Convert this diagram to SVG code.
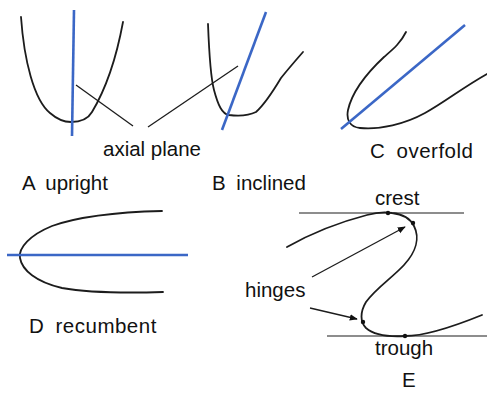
<svg xmlns="http://www.w3.org/2000/svg" width="487" height="395" viewBox="0 0 487 395">
  <style>
    .fold { fill: none; stroke: #1c1c1c; stroke-width: 1.8; stroke-linecap: round; stroke-linejoin: round; }
    .axis { fill: none; stroke: #3b67c6; stroke-width: 2.6; stroke-linecap: butt; }
    .lead { fill: none; stroke: #1c1c1c; stroke-width: 1.3; }
    .ref  { fill: none; stroke: #1c1c1c; stroke-width: 1.2; }
    .lbl  { font-family: "Liberation Sans", Arial, sans-serif; font-size: 20.5px; fill: #111; }
    .cap  { word-spacing: 5px; }
    .wide { letter-spacing: 0.5px; }
    .dot  { fill: #111; }
  </style>
  <defs>
    <marker id="arrow" viewBox="0 0 10 10" refX="9" refY="5" markerWidth="8" markerHeight="8" orient="auto" markerUnits="userSpaceOnUse">
      <path d="M0,1 L10,5 L0,9 Z" fill="#111"/>
    </marker>
  </defs>

  <rect width="487" height="395" fill="#ffffff"/>

  <!-- A: upright fold -->
  <g id="fold-a">
    <path class="fold" d="M21,17 C24,60 34,100 50,113 C58,120 64,122 71,122 C80,122 88,119 92,112 C104,92 116,60 123,22"/>
    <line class="axis" x1="74" y1="10" x2="72" y2="136"/>
    <text class="lbl cap" x="22" y="190">A upright</text>
  </g>

  <!-- B: inclined fold -->
  <g id="fold-b">
    <path class="fold" d="M208,24 C209,50 210,75 214,90 C218,105 222,114 229,115 C238,116 248,116 256,112 C265,104 275,88 281,78 C289,68 296,60 303,52"/>
    <line class="axis" x1="266" y1="12" x2="222" y2="130"/>
    <text class="lbl cap" x="212" y="190">B inclined</text>
  </g>

  <!-- C: overfold -->
  <g id="fold-c">
    <path class="fold" d="M406,32 C400,44 392,50 384,57 C368,72 352,92 348,110 C346,120 350,127 360,128 C380,130 405,124 425,113 C445,102 462,88 487,74"/>
    <line class="axis" x1="465" y1="25" x2="341" y2="129"/>
    <text class="lbl cap wide" x="370" y="158">C overfold</text>
  </g>

  <!-- D: recumbent fold -->
  <g id="fold-d">
    <path class="fold" d="M162,211 C120,212 80,216 52,226 C30,235 18,248 20,258 C22,270 36,282 62,288 C90,293 130,293 163,292"/>
    <line class="axis" x1="7" y1="255" x2="188" y2="255"/>
    <text class="lbl cap wide" x="29" y="333">D recumbent</text>
  </g>

  <!-- E: crest, trough and hinges -->
  <g id="fold-e">
    <line class="ref" x1="299" y1="213" x2="464" y2="213"/>
    <line class="ref" x1="327" y1="336" x2="487" y2="336"/>
    <path class="fold" d="M287,247 C310,234 340,222 367,215 C378,212 386,212 392,213 C402,214 410,218 414,226 C420,238 416,252 404,265 C392,278 376,288 366,302 C360,312 360,322 366,328 C374,335 388,337 405,336 C425,336 450,328 482,315"/>
    <circle class="dot" cx="388" cy="213" r="2.2"/>
    <circle class="dot" cx="413" cy="223" r="2.2"/>
    <circle class="dot" cx="363" cy="322" r="2.2"/>
    <circle class="dot" cx="405" cy="336" r="2.2"/>
    <text class="lbl" x="375" y="205">crest</text>
    <text class="lbl" x="245" y="297">hinges</text>
    <text class="lbl" x="375" y="355">trough</text>
    <text class="lbl" x="402" y="387">E</text>
  </g>

  <!-- axial plane label shared by A and B -->
  <g id="axial-plane">
    <text class="lbl" x="103" y="156">axial plane</text>
  </g>

  <!-- leader lines and arrows -->
  <g id="connectors">
    <line class="lead" x1="76" y1="85" x2="133" y2="126"/>
    <line class="lead" x1="148" y1="127" x2="238" y2="66"/>
    <line class="lead" x1="312" y1="277" x2="405" y2="227" marker-end="url(#arrow)"/>
    <line class="lead" x1="310" y1="308" x2="357" y2="319" marker-end="url(#arrow)"/>
  </g>
</svg>
